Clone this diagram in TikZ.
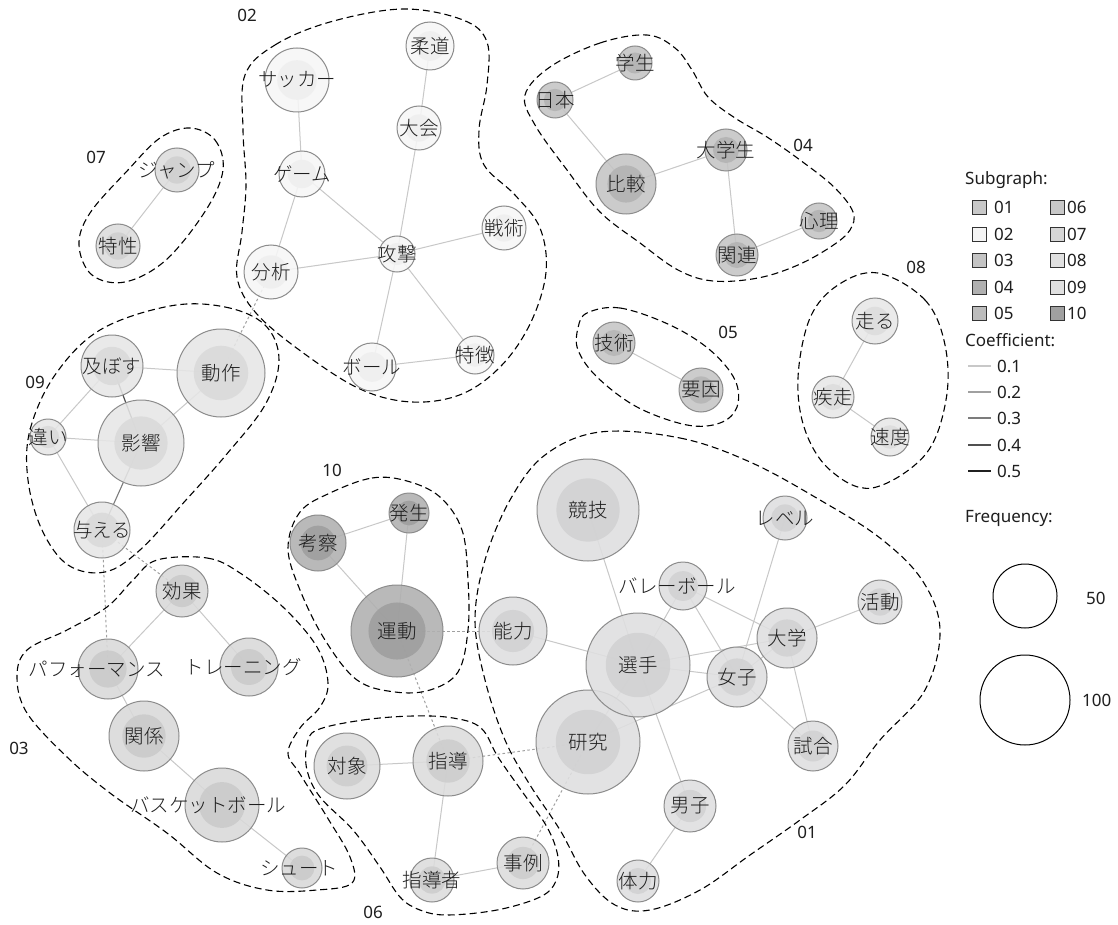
\documentclass[tikz,border=0pt]{standalone}
\usepackage{fontspec}
\setmainfont{Noto Sans}
\IfFontExistsTF{Noto Sans CJK JP Light}
  {\newfontfamily\jpfont{Noto Sans CJK JP Light}}
  {\newfontfamily\jpfont{Noto Sans CJK JP}}

% group colours: outer ring (o..), inner core (i..), legend swatch (s..)
\definecolor{o01}{HTML}{DFDFE0}\definecolor{i01}{HTML}{D1D1D2}\definecolor{s01}{HTML}{C8C8C8}
\definecolor{o02}{HTML}{F6F6F6}\definecolor{i02}{HTML}{EFEFEF}\definecolor{s02}{HTML}{F4F4F4}
\definecolor{o03}{HTML}{D9D9D9}\definecolor{i03}{HTML}{CACACA}\definecolor{s03}{HTML}{C4C4C4}
\definecolor{o04}{HTML}{C4C4C4}\definecolor{i04}{HTML}{B3B3B3}\definecolor{s04}{HTML}{B0B0B0}
\definecolor{o05}{HTML}{C6C6C6}\definecolor{i05}{HTML}{B6B6B6}\definecolor{s05}{HTML}{BCBCBC}
\definecolor{o06}{HTML}{DCDCDC}\definecolor{i06}{HTML}{CDCDCD}\definecolor{s06}{HTML}{C8C8C8}
\definecolor{o07}{HTML}{DCDCDC}\definecolor{i07}{HTML}{CFCFCF}\definecolor{s07}{HTML}{D6D6D6}
\definecolor{o08}{HTML}{E8E8E8}\definecolor{i08}{HTML}{DDDDDD}\definecolor{s08}{HTML}{E0E0E0}
\definecolor{o09}{HTML}{E6E6E6}\definecolor{i09}{HTML}{DADADA}\definecolor{s09}{HTML}{E0E0E0}
\definecolor{o10}{HTML}{B0B0B0}\definecolor{i10}{HTML}{9E9E9E}\definecolor{s10}{HTML}{A0A0A0}
\definecolor{nodeline}{HTML}{8C8C8C}
\definecolor{labeltext}{HTML}{1E1E1E}
\definecolor{c1}{HTML}{C8C8C8}\definecolor{c2}{HTML}{A0A0A0}\definecolor{c3}{HTML}{7C7C7C}
\definecolor{c4}{HTML}{505050}\definecolor{c5}{HTML}{202020}

\pgfdeclarelayer{edges}
\pgfdeclarelayer{labels}
\pgfsetlayers{edges,main,labels}

\tikzset{
  wnode/.style={circle, draw=nodeline, line width=1pt, inner sep=0pt, fill opacity=0.88},
  wlabel/.style={font=\jpfont\fontsize{19.5}{21}\selectfont, text=labeltext, inner sep=0pt},
  hull/.style={draw=black, line width=1.1pt, dash pattern=on 7pt off 4pt},
  glabel/.style={font=\fontsize{17}{20}\selectfont, text=labeltext, inner sep=0pt},
  edge/.style={draw=c1, line width=1pt},
  edgemid/.style={draw=c3, line width=1.1pt},
  edgedark/.style={draw=c4, line width=1.2pt},
  cross/.style={draw=c2, line width=1pt, dash pattern=on 2.5pt off 2.5pt},
  legtext/.style={font=\fontsize{17}{20}\selectfont, text=labeltext, inner sep=0pt, anchor=west},
  swatch/.style={draw=black!80, line width=0.8pt, minimum size=14pt, inner sep=0pt},
  freq/.style={circle, draw=black, line width=1pt, inner sep=0pt},
}

% \kw[label shift]{name}{x}{y}{radius}{group}{word}
\newcommand\kw[7][0]{%
  \node[wnode, fill=o#6, minimum size={2*#5pt}] (#2) at (#3,#4) {};
  \fill[i#6, fill opacity=0.88] (#2.center) circle[radius={0.62*#5pt}];
  \begin{pgfonlayer}{labels}\node[wlabel, xshift=#1pt] at (#2.center) {#7};\end{pgfonlayer}}

\begin{document}
\begin{tikzpicture}[x=1pt,y=-1pt]
\useasboundingbox (0,0) rectangle (1118,925);
\begin{pgfonlayer}{edges}
\fill[white] (0,0) rectangle (1118,925);
\end{pgfonlayer}

% ---- subgraph outlines ----
\draw[hull] plot[smooth cycle, tension=0.6] coordinates {(245,75) (275,45) (330,22) (403,9) (463,20) (487,42) (487,85) (479,130) (484,165) (515,195) (540,228) (546,272) (531,322) (502,365) (462,394) (412,402) (360,389) (302,352) (256,313) (237,277) (242,232) (246,185) (243,130)};
\draw[hull] plot[smooth cycle, tension=0.6] coordinates {(190,128) (215,140) (223,170) (206,210) (166,260) (125,282) (92,275) (79,245) (90,213) (128,170) (160,138)};
\draw[hull] plot[smooth cycle, tension=0.6] coordinates {(550,67) (600,43) (647,35) (675,48) (692,70) (708,97) (735,118) (767,137) (800,160) (834,187) (853,212) (850,230) (832,246) (798,265) (758,278) (713,281) (678,270) (640,243) (600,212) (567,170) (535,125) (525,95)};
\draw[hull] plot[smooth cycle, tension=0.6] coordinates {(587,313) (620,308) (670,325) (710,350) (735,380) (737,407) (720,423) (687,425) (637,407) (597,377) (578,350) (578,328)};
\draw[hull] plot[smooth cycle, tension=0.6] coordinates {(878,273) (925,300) (945,345) (946,400) (925,455) (872,488) (830,470) (805,430) (798,378) (810,318) (838,285)};
\draw[hull] plot[smooth cycle, tension=0.6] coordinates {(170,306) (225,307) (265,325) (279,360) (265,405) (226,455) (186,500) (140,550) (105,572) (68,565) (42,530) (28,480) (30,430) (55,375) (100,330)};
\draw[hull] plot[smooth cycle, tension=0.6] coordinates {(330,493) (372,478) (407,481) (440,497) (462,530) (468,580) (468,630) (458,672) (430,690) (395,692) (357,680) (325,640) (300,590) (288,548) (300,512)};
\draw[hull] plot[smooth cycle, tension=0.6] coordinates {(317,730) (363,720) (413,716) (453,718) (481,728) (498,757) (521,790) (547,827) (558,857) (556,881) (540,897) (497,910) (447,915) (420,910) (400,897) (380,867) (353,830) (320,797) (307,770) (307,745)};
\draw[hull] plot[smooth cycle, tension=0.6] coordinates {(157,560) (207,558) (240,573) (283,607) (317,647) (328,683) (320,707) (300,728) (288,753) (300,774) (327,817) (350,857) (352,883) (317,890) (267,890) (217,873) (167,833) (110,793) (67,757) (27,713) (17,677) (27,650) (67,630) (107,607) (133,580)};
\draw[hull] plot[smooth cycle, tension=0.6] coordinates {(600,432) (680,438) (750,462) (820,500) (880,538) (922,580) (940,630) (925,690) (880,740) (845,785) (800,820) (750,855) (700,890) (650,910) (615,905) (585,875) (560,830) (530,785) (505,740) (485,680) (475,620) (485,560) (510,500) (545,455)};

% ---- subgraph numbers ----
\node[glabel] (g02) at (247,15) {02};
\node[glabel] (g07) at (96,157) {07};
\node[glabel] (g04) at (803,145) {04};
\node[glabel] (g08) at (916,267) {08};
\node[glabel] (g05) at (728,332) {05};
\node[glabel] (g09) at (35,382) {09};
\node[glabel] (g10) at (332,470) {10};
\node[glabel] (g03) at (19,748) {03};
\node[glabel] (g01) at (807,832) {01};
\node[glabel] (g06) at (373,912) {06};

% ---- words ----
% 02
\kw{soccer}{297}{80}{32}{02}{サッカー}
\kw{judo}{430}{46}{24}{02}{柔道}
\kw{taikai}{419}{128}{22}{02}{大会}
\kw{game}{302}{174}{23}{02}{ゲーム}
\kw{bunseki}{271}{272}{27}{02}{分析}
\kw{kougeki}{397}{254}{18}{02}{攻撃}
\kw{senjutsu}{504}{228}{22}{02}{戦術}
\kw{ball}{372}{367}{24}{02}{ボール}
\kw{tokuchou}{475}{355}{19}{02}{特徴}
% 07
\kw{jump}{177}{170}{22}{07}{ジャンプ}
\kw{tokusei}{118}{246}{22}{07}{特性}
% 04
\kw{gakusei}{635}{63}{17}{04}{学生}
\kw{nihon}{555}{100}{18}{04}{日本}
\kw{hikaku}{626}{184}{30}{04}{比較}
\kw{daigakusei}{726}{150}{21}{04}{大学生}
\kw{shinri}{819}{221}{18}{04}{心理}
\kw{kanren}{737}{255}{21}{04}{関連}
% 05
\kw{gijutsu}{614}{343}{21}{05}{技術}
\kw{youin}{701}{390}{22}{05}{要因}
% 08
\kw{hashiru}{875}{321}{23}{08}{走る}
\kw{shissou}{833}{397}{21}{08}{疾走}
\kw{sokudo}{890}{437}{19}{08}{速度}
% 09
\kw{oyobosu}{112}{366}{31}{09}{及ぼす}
\kw{dousa}{221}{373}{44}{09}{動作}
\kw{eikyou}{141}{443}{43}{09}{影響}
\kw{chigai}{48}{437}{18}{09}{違い}
\kw{ataeru}{102}{530}{28}{09}{与える}
% 10
\kw{kousatsu}{318}{543}{28}{10}{考察}
\kw{hassei}{409}{513}{20}{10}{発生}
\kw{undou}{397}{631}{46}{10}{運動}
% 03
\kw{kouka}{182}{591}{26}{03}{効果}
\kw[-11]{perf}{108}{669}{30}{03}{パフォーマンス}
\kw[-6]{training}{249}{667}{29}{03}{トレーニング}
\kw{kankei}{144}{736}{35}{03}{関係}
\kw[-14]{basket}{222}{805}{37}{03}{バスケットボール}
\kw[-3]{shoot}{302}{868}{20}{03}{シュート}
% 06
\kw{taishou}{347}{766}{33}{06}{対象}
\kw{shidou}{448}{761}{35}{06}{指導}
\kw{shidousha}{432}{880}{22}{06}{指導者}
\kw{jirei}{523}{863}{26}{06}{事例}
% 01
\kw{kyougi}{588}{510}{51}{01}{競技}
\kw{level}{785}{518}{22}{01}{レベル}
\kw[-6]{volley}{683}{586}{24}{01}{バレーボール}
\kw{nouryoku}{513}{631}{34}{01}{能力}
\kw{katsudou}{880}{602}{22}{01}{活動}
\kw{daigaku}{787}{638}{30}{01}{大学}
\kw{kenkyu}{588}{742}{52}{01}{研究}
\kw{senshu}{638}{665}{52}{01}{選手}
\kw{joshi}{737}{677}{30}{01}{女子}
\kw{shiai}{813}{746}{25}{01}{試合}
\kw{danshi}{690}{806}{26}{01}{男子}
\kw{tairyoku}{638}{881}{21}{01}{体力}

% ---- co-occurrence links ----
\begin{pgfonlayer}{edges}
\foreach \a/\b in {soccer/game, judo/taikai, taikai/kougeki, game/bunseki, game/kougeki,
  bunseki/kougeki, kougeki/senjutsu, kougeki/ball, kougeki/tokuchou, ball/tokuchou,
  jump/tokusei,
  gakusei/nihon, nihon/hikaku, hikaku/daigakusei, daigakusei/kanren, kanren/shinri,
  gijutsu/youin, hashiru/shissou, shissou/sokudo,
  oyobosu/dousa, oyobosu/chigai, eikyou/dousa, eikyou/chigai, chigai/ataeru,
  kousatsu/hassei, kousatsu/undou, hassei/undou,
  kouka/perf, kouka/training, perf/kankei, kankei/basket, basket/shoot,
  taishou/shidou, shidou/shidousha, shidousha/jirei,
  kyougi/senshu, nouryoku/senshu, volley/senshu, volley/joshi, volley/daigaku,
  level/joshi, daigaku/senshu, daigaku/joshi, daigaku/katsudou, daigaku/shiai,
  senshu/joshi, senshu/danshi, kenkyu/joshi, kenkyu/senshu, joshi/shiai, danshi/tairyoku}
  \draw[edge] (\a.center) -- (\b.center);
\draw[edgedark] (oyobosu.center) -- (eikyou.center);
\draw[edgemid] (eikyou.center) -- (ataeru.center);
\foreach \a/\b in {bunseki/dousa, ataeru/perf, ataeru/kouka, undou/nouryoku,
  undou/shidou, shidou/kenkyu, jirei/kenkyu}
  \draw[cross] (\a.center) -- (\b.center);
\end{pgfonlayer}

% ---- legend ----
\node[legtext] (subhead) at (965,180) {Subgraph:};
\foreach \n/\y in {01/207, 02/234, 03/260, 04/287, 05/313} {
  \node[swatch, fill=s\n] (sw\n) at (979,\y) {};
  \node[legtext] (swl\n) at (994,\y) {\n};
}
\foreach \n/\y in {06/207, 07/234, 08/260, 09/287, 10/313} {
  \node[swatch, fill=s\n] (sw\n) at (1057,\y) {};
  \node[legtext] (swl\n) at (1067,\y) {\n};
}
\node[legtext] (coefhead) at (965,340) {Coefficient:};
\foreach \i/\v/\y in {1/0.1/366, 2/0.2/392, 3/0.3/418, 4/0.4/445, 5/0.5/471} {
  \coordinate (ca\i) at (968,\y);
  \coordinate (cb\i) at (991,\y);
  \draw[draw=c\i, line width=1.2pt] (ca\i) -- (cb\i);
  \node[legtext] (cl\i) at (997,\y) {\v};
}
\node[legtext] (freqhead) at (965,518) {Frequency:};
\node[freq, minimum size=64pt] (f50) at (1025,596) {};
\node[legtext] (f50l) at (1086,598) {50};
\node[freq, minimum size=90pt] (f100) at (1025,700) {};
\node[legtext] (f100l) at (1082,700) {100};
\end{tikzpicture}
\end{document}
